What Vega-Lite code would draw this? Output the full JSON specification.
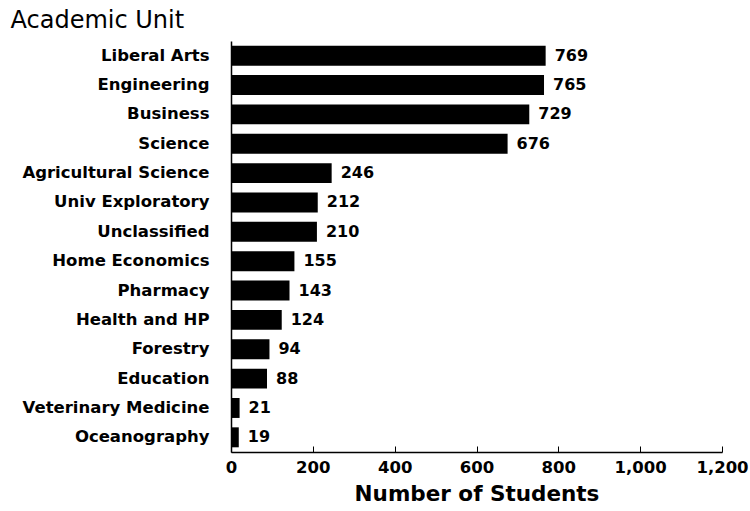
{
  "$schema": "https://vega.github.io/schema/vega-lite/v6.json",
  "width": 491,
  "height": 411,
  "autosize": {"type": "none"},
  "padding": {"left": 231, "top": 41, "right": 28, "bottom": 59},
  "background": "white",
  "config": {"view": {"stroke": null}, "font": "DejaVu Sans"},
  "data": {
    "values": [
      {"unit": "Liberal Arts", "students": 769},
      {"unit": "Engineering", "students": 765},
      {"unit": "Business", "students": 729},
      {"unit": "Science", "students": 676},
      {"unit": "Agricultural Science", "students": 246},
      {"unit": "Univ Exploratory", "students": 212},
      {"unit": "Unclassified", "students": 210},
      {"unit": "Home Economics", "students": 155},
      {"unit": "Pharmacy", "students": 143},
      {"unit": "Health and HP", "students": 124},
      {"unit": "Forestry", "students": 94},
      {"unit": "Education", "students": 88},
      {"unit": "Veterinary Medicine", "students": 21},
      {"unit": "Oceanography", "students": 19}
    ]
  },
  "encoding": {
    "y": {
      "field": "unit",
      "type": "nominal",
      "sort": null,
      "scale": {"paddingInner": 0.32, "paddingOuter": 0.16},
      "axis": {
        "title": "Academic Unit",
        "titleAngle": 0,
        "titleX": -221,
        "titleY": -21,
        "titleAlign": "left",
        "titleBaseline": "middle",
        "titleFontSize": 24,
        "titleFontWeight": "normal",
        "titleColor": "black",
        "labelFontSize": 16.5,
        "labelFontWeight": "bold",
        "labelColor": "black",
        "labelPadding": 22,
        "labelLimit": 250,
        "ticks": false,
        "domainColor": "black",
        "domainWidth": 1.5
      }
    },
    "x": {
      "field": "students",
      "type": "quantitative",
      "scale": {"domain": [0, 1200], "nice": false},
      "axis": {
        "title": "Number of Students",
        "values": [0, 200, 400, 600, 800, 1000, 1200],
        "format": ",d",
        "labelFlush": false,
        "grid": false,
        "tickSize": -6,
        "tickColor": "black",
        "domainColor": "black",
        "domainWidth": 1.5,
        "labelFontSize": 16.5,
        "labelFontWeight": "bold",
        "labelColor": "black",
        "labelPadding": 13,
        "titleFontSize": 21.5,
        "titleFontWeight": "bold",
        "titleColor": "black",
        "titlePadding": 8
      }
    }
  },
  "layer": [
    {"mark": {"type": "bar", "color": "black"}},
    {
      "mark": {"type": "text", "align": "left", "dx": 9, "fontSize": 16, "fontWeight": "bold", "color": "black"},
      "encoding": {"text": {"field": "students", "type": "quantitative", "format": "d"}}
    }
  ]
}
